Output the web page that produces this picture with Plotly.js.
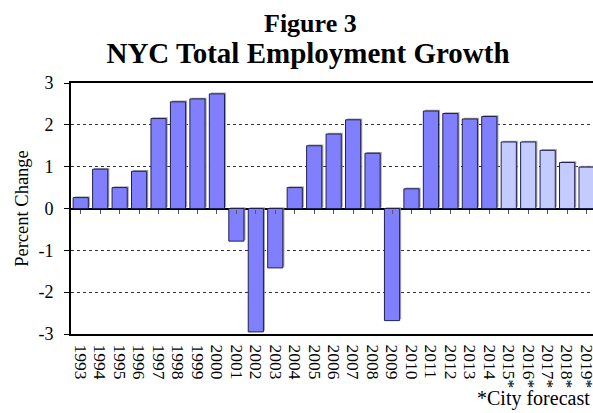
<!DOCTYPE html>
<html>
<head>
<meta charset="utf-8">
<script src="https://cdn.plot.ly/plotly-3.0.1.min.js"></script>
<style>html,body{margin:0;padding:0;background:#fff;}#chart{width:593px;height:413px;}</style>
</head>
<body>
<div id="chart"></div>
<script>
// Data
const years = ['1993','1994','1995','1996','1997','1998','1999','2000','2001','2002','2003','2004','2005','2006','2007','2008','2009','2010','2011','2012','2013','2014','2015*','2016*','2017*','2018*','2019*'];
const growth = [0.26,0.94,0.50,0.89,2.15,2.55,2.62,2.74,-0.78,-2.95,-1.42,0.50,1.50,1.78,2.12,1.32,-2.68,0.47,2.33,2.27,2.14,2.20,1.59,1.59,1.39,1.10,0.99];
const yTicks = [-3,-2,-1,0,1,2,3];
const yTickText = ['-3','-2','-1','0','1','2','3'];

const actualColor = '#8080ff';
const forecastColor = '#c4ccff';
const barColors = years.map(y => y.endsWith('*') ? forecastColor : actualColor);
const FONT = 'Liberation Serif';

const shadow = {
  type: 'bar', x: years, y: growth, base: 0.03, xaxis: 'x', yaxis: 'y',
  width: 0.78, offset: -0.39 + 0.08,
  marker: {color: 'rgba(140,140,140,0.8)', line: {width: 0}},
  hoverinfo: 'skip', showlegend: false
};
const bars = {
  type: 'bar', x: years, y: growth, xaxis: 'x', yaxis: 'y',
  width: 0.78, offset: -0.39,
  marker: {color: barColors, line: {color: '#202050', width: 1}},
  showlegend: false
};
const tickCarrier = {
  type: 'scatter', mode: 'markers', x: years, y: growth, xaxis: 'x2', yaxis: 'y',
  marker: {opacity: 0, size: 1}, hoverinfo: 'skip', showlegend: false
};

const xr = [-0.5, 26.33];
const layout = {
  width: 593, height: 413,
  margin: {l: 71, r: 0, t: 83, b: 79},
  paper_bgcolor: '#fff', plot_bgcolor: '#fff',
  barmode: 'overlay',
  font: {family: FONT, color: '#000'},
  title: {
    text: 'NYC Total Employment Growth',
    font: {family: FONT, size: 29, color: '#000', weight: 'bold'},
    xref: 'container', x: 308/593, xanchor: 'center',
    yref: 'container', y: 1 - 52.5/413, yanchor: 'middle'
  },
  xaxis: {
    type: 'category', range: xr, tickmode: 'linear', tick0: 0, dtick: 1,
    showline: true, linecolor: '#000', linewidth: 2, mirror: true,
    ticks: '', showgrid: false, zeroline: false,
    tickangle: 90, tickfont: {family: FONT, size: 17.5, color: '#000'},
    ticklabelstandoff: 5
  },
  xaxis2: {
    type: 'category', range: xr, overlaying: 'x', anchor: 'free', position: 0.5, side: 'bottom',
    tickmode: 'linear', tick0: 0, dtick: 1,
    ticks: 'outside', ticklen: 4, tickwidth: 1, tickcolor: '#555',
    showticklabels: false, showline: false, showgrid: false, zeroline: false
  },
  yaxis: {
    range: [-3, 3], tickvals: yTicks, ticktext: yTickText,
    showline: true, linecolor: '#000', linewidth: 2, mirror: false,
    ticks: 'outside', ticklen: 5, tickwidth: 1, tickcolor: '#000',
    tickfont: {family: FONT, size: 18, color: '#000'},
    ticklabelstandoff: 7,
    showgrid: true, gridcolor: '#333', griddash: 'dot', gridwidth: 1,
    zeroline: true, zerolinecolor: '#000', zerolinewidth: 2,
    title: {text: 'Percent Change', font: {family: FONT, size: 18.5, color: '#000'}, standoff: 5}
  },
  annotations: [
    {text: '<b>Figure 3</b>', xref: 'paper', yref: 'paper',
     x: (310-71)/522, xanchor: 'center', y: (334-23)/251, yanchor: 'middle',
     showarrow: false, font: {family: FONT, size: 26, color: '#000'}},
    {text: '*City forecast', xref: 'paper', yref: 'paper',
     x: 1, xanchor: 'right', xshift: -1, y: (334-398.5)/251, yanchor: 'middle',
     showarrow: false, font: {family: FONT, size: 20, color: '#000'}}
  ]
};

Plotly.newPlot('chart', [shadow, bars, tickCarrier], layout, {staticPlot: true, displayModeBar: false});
</script>
</body>
</html>
